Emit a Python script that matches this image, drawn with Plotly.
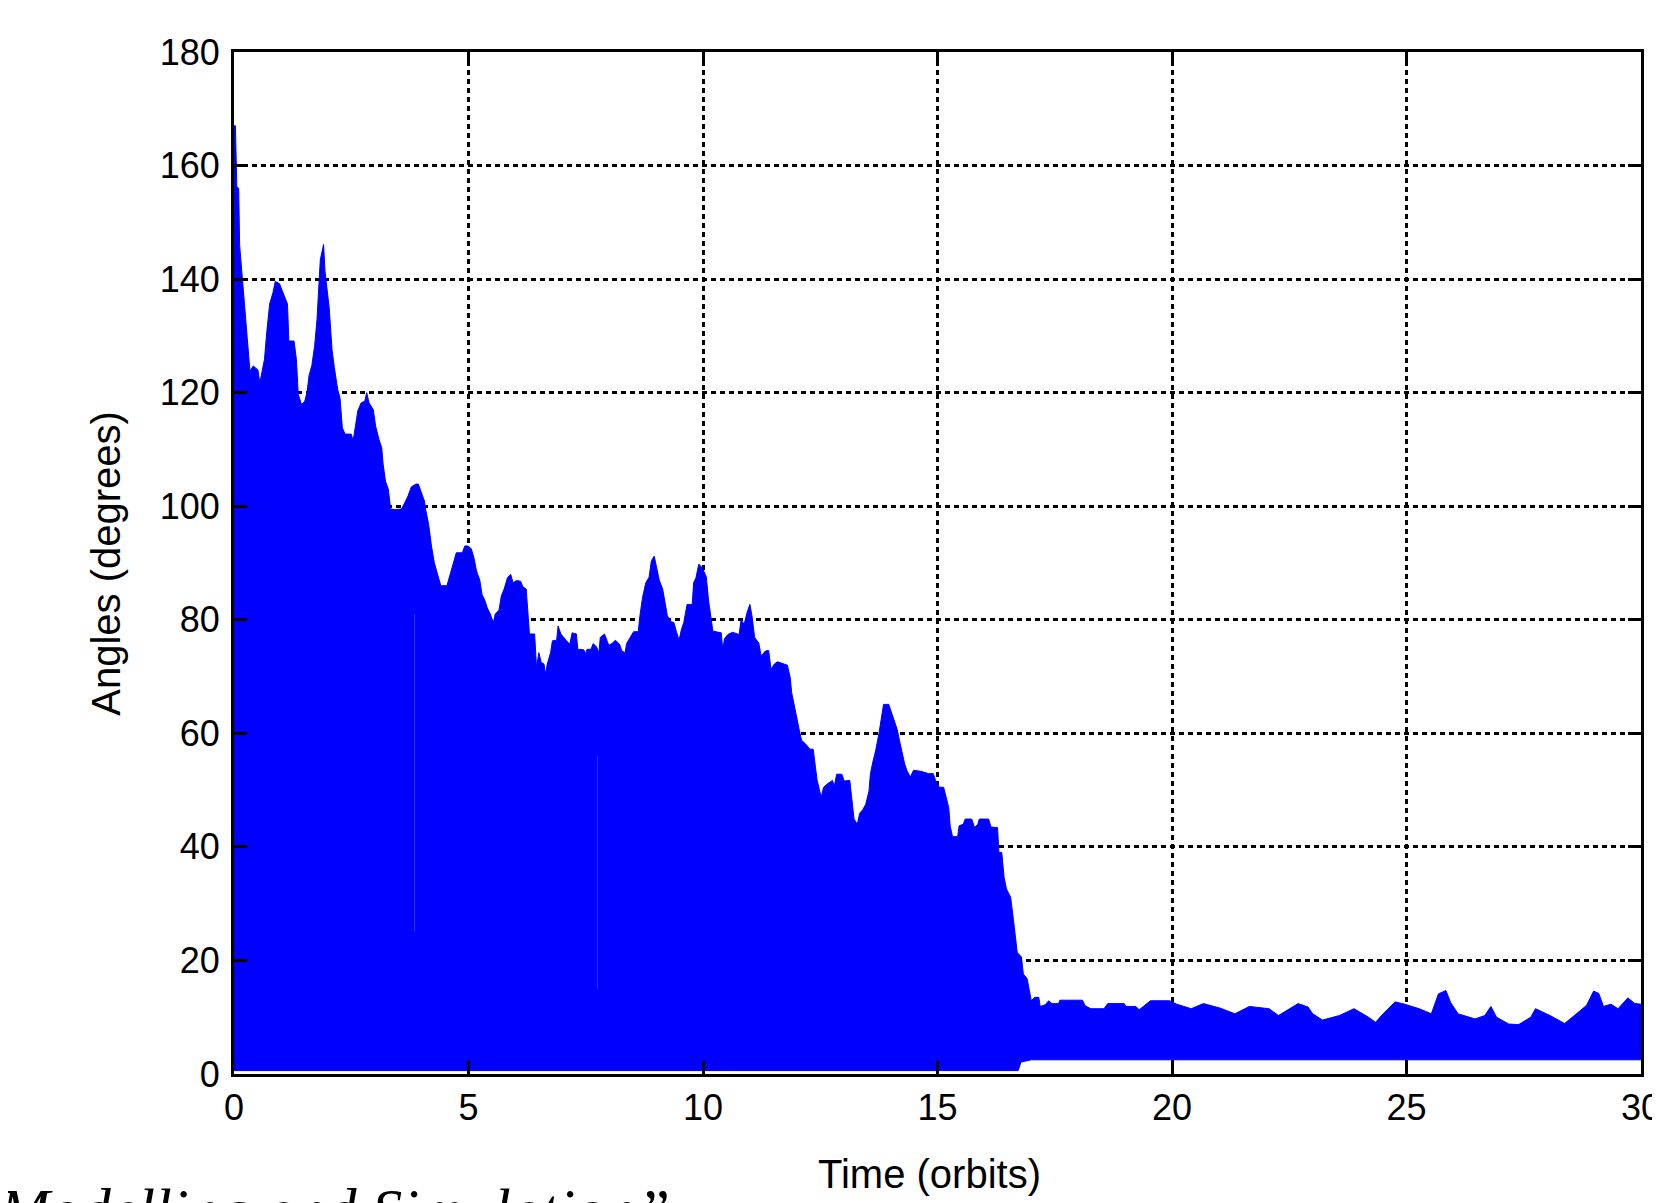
import plotly.graph_objects as go

# Upper envelope of the oscillating angle signal (orbits, degrees)
t_upper = [0.00, 0.03, 0.06, 0.10, 0.12, 0.16, 0.23, 0.29, 0.34, 0.41, 0.51, 0.55, 0.58, 0.65, 0.70,
           0.76, 0.83, 0.88, 0.97, 1.05, 1.14, 1.17, 1.28, 1.33, 1.37, 1.44, 1.51, 1.56, 1.60, 1.66,
           1.72, 1.77, 1.84, 1.91, 1.94, 2.03, 2.09, 2.14, 2.21, 2.26, 2.31, 2.37, 2.50, 2.54, 2.58,
           2.64, 2.71, 2.79, 2.83, 2.88, 2.97, 3.02, 3.09, 3.15, 3.18, 3.23, 3.29, 3.34, 3.43, 3.57,
           3.64, 3.71, 3.78, 3.88, 3.93, 3.99, 4.06, 4.09, 4.15, 4.21, 4.27, 4.34, 4.41, 4.54, 4.61,
           4.68, 4.74, 4.87, 4.92, 4.99, 5.06, 5.12, 5.17, 5.24, 5.29, 5.35, 5.40, 5.46, 5.53, 5.57,
           5.65, 5.70, 5.76, 5.83, 5.90, 5.95, 6.02, 6.11, 6.16, 6.23, 6.28, 6.30, 6.41, 6.45, 6.50,
           6.55, 6.61, 6.64, 6.68, 6.75, 6.79, 6.88, 6.91, 6.97, 7.09, 7.16, 7.21, 7.30, 7.33, 7.46,
           7.49, 7.53, 7.61, 7.66, 7.73, 7.78, 7.81, 7.90, 7.99, 8.06, 8.13, 8.22, 8.27, 8.34, 8.37,
           8.45, 8.52, 8.62, 8.65, 8.71, 8.78, 8.85, 8.90, 8.96, 9.01, 9.07, 9.14, 9.19, 9.24, 9.31,
           9.38, 9.43, 9.49, 9.54, 9.59, 9.66, 9.77, 9.80, 9.85, 9.91, 9.98, 10.07, 10.12, 10.21, 10.39,
           10.42, 10.46, 10.53, 10.63, 10.77, 10.81, 10.88, 10.94, 11.00, 11.05, 11.10, 11.19, 11.24, 11.33, 11.40,
           11.45, 11.52, 11.59, 11.80, 11.86, 11.89, 11.94, 12.00, 12.05, 12.10, 12.19, 12.28, 12.35, 12.38, 12.43,
           12.52, 12.57, 12.67, 12.76, 12.80, 12.85, 12.96, 13.01, 13.13, 13.17, 13.22, 13.29, 13.34, 13.41, 13.47,
           13.54, 13.57, 13.62, 13.68, 13.75, 13.80, 13.85, 13.96, 14.02, 14.07, 14.14, 14.19, 14.24, 14.30, 14.35,
           14.42, 14.49, 14.65, 14.81, 14.91, 14.96, 15.04, 15.13, 15.18, 15.24, 15.27, 15.32, 15.43, 15.46, 15.55,
           15.59, 15.73, 15.79, 15.86, 15.89, 16.09, 16.14, 16.28, 16.31, 16.37, 16.42, 16.47, 16.56, 16.63, 16.70,
           16.79, 16.83, 16.91, 16.95, 17.00, 17.07, 17.16, 17.19, 17.30, 17.37, 17.44, 17.58, 17.61, 18.09, 18.15,
           18.27, 18.55, 18.63, 18.98, 19.02, 19.23, 19.30, 19.54, 19.95, 20.10, 20.41, 20.67, 21.03, 21.34, 21.65,
           22.07, 22.27, 22.69, 22.90, 23.00, 23.21, 23.57, 23.88, 24.19, 24.34, 24.50, 24.76, 24.96, 25.27, 25.53,
           25.68, 25.84, 25.94, 26.10, 26.46, 26.67, 26.80, 26.92, 27.18, 27.39, 27.65, 27.75, 28.06, 28.37, 28.58,
           28.84, 28.99, 29.10, 29.20, 29.36, 29.51, 29.72, 29.87, 30.00]
angle_upper = [167.0, 167.0, 156.3, 156.0, 146.0, 142.0, 136.0, 130.3, 123.8, 124.7, 124.0, 121.7, 123.0, 125.9, 130.8,
               135.6, 137.6, 139.6, 139.2, 137.6, 135.6, 129.1, 129.1, 125.9, 119.7, 117.9, 118.5, 120.2, 123.0, 124.8,
               128.3, 132.9, 143.4, 146.1, 141.4, 134.9, 127.6, 124.4, 120.6, 119.1, 113.8, 112.7, 112.7, 111.5, 113.5,
               116.8, 118.2, 118.5, 120.0, 118.2, 117.0, 114.1, 111.8, 110.3, 107.4, 104.4, 103.0, 99.5, 99.4, 99.5,
               100.6, 101.8, 103.4, 103.9, 103.9, 102.5, 100.9, 99.3, 96.8, 93.0, 90.1, 88.0, 86.0, 86.0, 88.0,
               90.1, 91.8, 91.8, 93.0, 93.0, 92.5, 90.8, 88.6, 87.0, 84.4, 83.4, 82.1, 81.1, 79.5, 81.0,
               81.7, 84.2, 85.4, 87.4, 88.0, 86.5, 86.9, 86.8, 85.8, 85.4, 80.0, 77.5, 77.5, 71.6, 74.2,
               72.5, 72.2, 70.4, 72.2, 74.2, 76.3, 76.4, 78.9, 77.5, 76.3, 75.7, 77.7, 77.5, 74.8, 74.7,
               74.0, 74.8, 74.8, 75.8, 75.2, 74.2, 76.9, 77.5, 75.5, 75.8, 76.4, 75.7, 74.5, 74.2, 75.8,
               76.9, 77.9, 77.9, 80.4, 83.9, 86.5, 87.5, 90.4, 91.2, 89.2, 86.9, 85.4, 83.3, 80.7, 79.7,
               79.5, 78.0, 76.4, 78.3, 79.5, 82.7, 82.7, 86.5, 87.4, 89.8, 89.2, 87.6, 83.3, 78.0, 77.7,
               74.8, 76.7, 77.4, 77.8, 77.4, 79.9, 79.3, 81.3, 82.7, 80.4, 76.9, 75.9, 73.6, 74.5, 74.6,
               71.3, 72.2, 72.6, 72.0, 69.8, 67.2, 65.0, 62.2, 60.7, 58.8, 58.1, 57.2, 57.2, 55.2, 51.9,
               48.7, 50.5, 51.2, 51.7, 50.7, 52.8, 52.8, 51.6, 51.7, 48.1, 44.9, 44.0, 45.9, 46.6, 47.5,
               49.9, 52.9, 54.9, 56.9, 59.9, 62.3, 65.1, 65.1, 63.5, 62.2, 60.7, 58.7, 56.6, 54.6, 53.4,
               52.3, 53.5, 53.3, 52.9, 52.9, 51.7, 50.5, 50.5, 49.0, 46.9, 43.7, 41.8, 41.8, 43.7, 44.0,
               44.9, 44.9, 43.4, 44.0, 44.9, 44.9, 43.5, 43.4, 39.0, 39.0, 34.6, 32.6, 31.1, 26.4, 21.4,
               20.6, 17.6, 16.8, 15.0, 12.9, 13.5, 13.5, 11.9, 12.2, 12.9, 12.4, 12.4, 13.0, 13.0, 12.0,
               11.5, 11.5, 12.4, 12.4, 11.9, 11.9, 11.3, 12.9, 12.9, 12.3, 11.5, 12.4, 11.6, 10.6, 11.9,
               11.5, 10.3, 12.4, 11.8, 10.6, 9.5, 10.3, 11.5, 10.0, 9.1, 10.6, 12.7, 12.3, 11.5, 10.6,
               14.1, 14.7, 12.6, 10.6, 9.7, 10.3, 11.9, 10.0, 8.8, 8.7, 10.0, 11.5, 10.3, 8.9, 10.3,
               12.1, 14.6, 14.2, 11.9, 12.3, 11.5, 13.4, 12.4, 12.3]

# Lower envelope of the signal
t_lower = [0.00, 16.72, 16.78, 17.00, 30.00]
angle_lower = [0.6, 0.6, 2.1, 2.5, 2.5]

# Two faint vertical streaks visible inside the filled band (time, from-angle, to-angle)
streak_t = [3.85, 7.75]
streak_from = [25.0, 15.0]
streak_to = [81.0, 56.0]

x_ticks = [0, 5, 10, 15, 20, 25, 30]
y_ticks = [0, 20, 40, 60, 80, 100, 120, 140, 160, 180]

# page offset caused by the default 8px body margin of the html page
OFF = 8
W, H = 1660, 1203
PLOT_LEFT, PLOT_RIGHT, PLOT_TOP, PLOT_BOTTOM = 234, 1641, 52, 1074.5  # page pixels
L = PLOT_LEFT - OFF
T = PLOT_TOP - OFF
R = W - (PLOT_RIGHT - OFF)
B = H - (PLOT_BOTTOM - OFF)
PW = PLOT_RIGHT - PLOT_LEFT
PH = PLOT_BOTTOM - PLOT_TOP


def px_x(px):
    return (px - PLOT_LEFT) / PW


def px_y(py):
    return (PLOT_BOTTOM - py) / PH


poly_x = t_upper + t_lower[::-1]
poly_y = angle_upper + angle_lower[::-1]

fig = go.Figure()
fig.add_trace(go.Scatter(
    x=poly_x, y=poly_y, mode="lines", fill="toself",
    fillcolor="#0000FF", line=dict(color="#0000FF", width=1),
    hoverinfo="skip", showlegend=False))

sx, sy = [], []
for t, a, b in zip(streak_t, streak_from, streak_to):
    sx += [t, t, None]
    sy += [a, b, None]
fig.add_trace(go.Scatter(
    x=sx, y=sy, mode="lines", line=dict(color="#2f2fff", width=1),
    hoverinfo="skip", showlegend=False))

axis_common = dict(
    showline=True, linecolor="black", linewidth=3, mirror="allticks",
    ticks="inside", ticklen=13, tickwidth=2.5, tickcolor="black",
    showgrid=True, gridcolor="black", gridwidth=2.5, griddash="5px,4px",
    zeroline=False, automargin=False, ticklabeloverflow="allow",
    tickfont=dict(family="Liberation Sans, Arial, sans-serif", size=36, color="black"),
)

fig.update_xaxes(range=[0, 30], tickvals=x_ticks, ticktext=[str(v) for v in x_ticks],
                 ticklabelstandoff=0, layer="above traces", **axis_common)
fig.update_yaxes(range=[0, 180], tickvals=y_ticks, ticktext=[str(v) for v in y_ticks],
                 ticklabelstandoff=4, layer="above traces", **axis_common)

title_font = "Liberation Sans Narrow, Arial Narrow, Liberation Sans, sans-serif"
fig.add_annotation(text="Angles (degrees)", xref="paper", yref="paper",
                   x=px_x(106), y=px_y(564), xanchor="center", yanchor="middle",
                   textangle=-90, showarrow=False,
                   font=dict(family=title_font, size=40, color="black"))
fig.add_annotation(text="Time (orbits)", xref="paper", yref="paper",
                   x=px_x(929), y=px_y(1151), xanchor="center", yanchor="top",
                   showarrow=False,
                   font=dict(family=title_font, size=40, color="black"))
fig.add_annotation(text="<i>Modelling and Simulation”</i>", xref="paper", yref="paper",
                   x=px_x(-4), y=px_y(1176), xanchor="left", yanchor="top",
                   showarrow=False,
                   font=dict(family="Liberation Serif, DejaVu Serif, serif", size=61, color="black"))

fig.update_layout(
    width=W, height=H,
    margin=dict(l=L, r=R, t=T, b=B, autoexpand=False),
    paper_bgcolor="white", plot_bgcolor="white",
    showlegend=False,
)

fig.write_html("out.html")
